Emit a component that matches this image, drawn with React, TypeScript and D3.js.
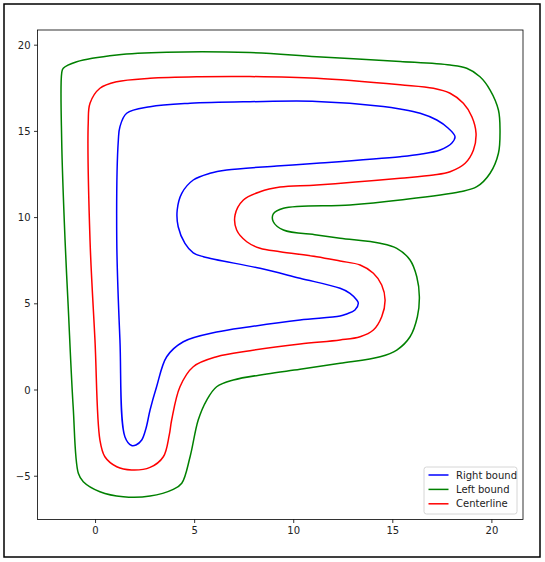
import React from "react";
import * as d3 from "d3";

const rightBound: [number, number][] = [
  [1.23, 15.27], [1.57, 16.05], [2.75, 16.43], [4.77, 16.63], [7.79, 16.72], [11.16, 16.74],
  [14.52, 16.45], [15.37, 16.3], [16.38, 16.05], [17.22, 15.66], [17.8, 15.18], [18.14, 14.69],
  [17.97, 14.31], [17.39, 13.92], [16.38, 13.67], [15.37, 13.53], [11.16, 13.15], [9.14, 12.99],
  [6.62, 12.76], [5.77, 12.57], [4.93, 12.18], [4.35, 11.41], [4.12, 10.44], [4.17, 9.47],
  [4.51, 8.51], [4.93, 7.96], [5.44, 7.73], [8.3, 7.06], [10.32, 6.48], [12.34, 5.9],
  [12.84, 5.61], [13.18, 5.22], [13.26, 5.03], [13.09, 4.64], [12.67, 4.41], [12.34, 4.29],
  [10.32, 4.06], [7.79, 3.67], [6.11, 3.36], [4.43, 2.8], [3.59, 1.93], [3.08, 0.19],
  [2.75, -1.16], [2.55, -2.2], [2.33, -2.9], [2.04, -3.19], [1.82, -3.22], [1.48, -2.71],
  [1.23, 2.9], [1.07, 8.7], [1.15, 14.5],
];

const leftBound: [number, number][] = [
  [-1.63, 18.66], [-0.95, 19.04], [1.07, 19.43], [3.59, 19.59], [7.79, 19.57], [11.16, 19.33],
  [15.37, 19.06], [17.89, 18.85], [18.73, 18.66], [19.4, 18.17], [19.91, 17.4], [20.33, 16.24],
  [20.41, 15.08], [20.33, 13.73], [19.91, 12.57], [19.24, 11.79], [18.39, 11.5], [15.37, 11.02],
  [12.84, 10.73], [9.48, 10.54], [8.97, 10.21], [8.97, 9.76], [9.48, 9.28], [11.16, 8.99],
  [12.34, 8.8], [14.36, 8.51], [15.2, 8.22], [15.87, 7.54], [16.21, 6.57], [16.34, 5.41],
  [16.24, 4.25], [15.87, 3.09], [15.2, 2.32], [14.36, 1.93], [12.34, 1.55], [10.32, 1.2],
  [8.64, 0.93], [6.95, 0.58], [6.11, 0.19], [5.61, -0.58], [5.18, -1.74], [4.77, -3.87],
  [4.35, -5.41], [3.92, -5.76], [2.75, -6.15], [1.4, -6.19], [0.22, -5.9], [-0.62, -5.32],
  [-0.87, -4.83], [-1.13, -0.97], [-1.38, 4.83], [-1.54, 8.7], [-1.71, 14.5], [-1.71, 18.37],
];

const centerline: [number, number][] = [
  [-0.28, 16.63], [0.22, 17.5], [1.07, 17.88], [2.75, 18.08], [5.27, 18.17], [7.79, 18.18],
  [11.16, 18.08], [15.37, 17.7], [17.05, 17.5], [17.89, 17.21], [18.56, 16.63],
  [18.99, 15.85], [19.2, 14.89], [19.07, 13.92], [18.65, 13.15], [17.89, 12.66], [17.05, 12.47],
  [15.37, 12.28], [11.16, 11.89], [9.31, 11.77], [8.3, 11.5], [7.46, 11.02], [7.04, 10.15],
  [7.12, 9.28], [7.63, 8.6], [8.3, 8.22], [9.31, 8.02], [11.16, 7.73], [12.34, 7.48],
  [13.35, 7.25], [14.02, 6.77], [14.44, 6.09], [14.61, 5.22], [14.44, 4.25], [14.02, 3.48],
  [13.35, 3.09], [12.34, 2.9], [10.32, 2.67], [7.79, 2.28], [6.11, 1.93], [4.93, 1.35],
  [4.26, 0.19], [3.84, -1.74], [3.72, -2.6], [3.42, -3.87], [2.75, -4.49], [1.82, -4.64],
  [1.07, -4.45], [0.47, -3.87], [0.22, -2.9], [-0.03, 2.9], [-0.28, 8.7], [-0.37, 15.47],
];

const xTicks = [0, 5, 10, 15, 20];
const yTicks = [-5, 0, 5, 10, 15, 20];

const seriesNames = ["Right bound", "Left bound", "Centerline"];
const seriesColors = ["#0000ff", "#008000", "#ff0000"];

export default function App() {
  const W = 545, H = 562;
  const left = 37.5, right = 523, top = 30, bottom = 519.5;
  const x = d3.scaleLinear().domain([-2.93, 21.57]).range([left, right]);
  const y = d3.scaleLinear().domain([-7.51, 20.88]).range([bottom, top]);
  const line = d3
    .line<[number, number]>()
    .x((d) => x(d[0]))
    .y((d) => y(d[1]))
    .curve(d3.curveCatmullRomClosed.alpha(0.5));
  const series = [rightBound, leftBound, centerline];
  const fmt = (v: number) => (v < 0 ? "\u2212" + Math.abs(v) : String(v));
  const font = "DejaVu Sans, sans-serif";
  const lx = 424, ly = 467;
  return (
    <svg width={W} height={H} style={{ position: "absolute", left: 0, top: 0 }} fontFamily={font}>
      <rect x={0} y={0} width={W} height={H} fill="#fff" />
      <rect x={4} y={4} width={536} height={553} fill="none" stroke="#000" strokeWidth={1.5} />
      {series.map((s, i) => (
        <path key={i} d={line(s) || ""} fill="none" stroke={seriesColors[i]} strokeWidth={1.5} />
      ))}
      <rect x={left} y={top} width={right - left} height={bottom - top} fill="none" stroke="#000" strokeWidth={0.8} />
      {xTicks.map((t) => (
        <g key={"x" + t}>
          <line x1={x(t)} x2={x(t)} y1={bottom} y2={bottom + 3.5} stroke="#000" strokeWidth={0.8} />
          <text x={x(t)} y={bottom + 7} dy="0.76em" textAnchor="middle" fontSize={10} fill="#222">
            {fmt(t)}
          </text>
        </g>
      ))}
      {yTicks.map((t) => (
        <g key={"y" + t}>
          <line x1={left - 3.5} x2={left} y1={y(t)} y2={y(t)} stroke="#000" strokeWidth={0.8} />
          <text x={left - 7} y={y(t)} dy="0.35em" textAnchor="end" fontSize={10} fill="#222">
            {fmt(t)}
          </text>
        </g>
      ))}
      <rect x={lx} y={ly} width={93} height={47} rx={2.5} fill="#fff" fillOpacity={0.8} stroke="#d6d6d6" strokeWidth={1} />
      {seriesNames.map((n, i) => (
        <g key={n}>
          <line x1={lx + 4.5} x2={lx + 24.5} y1={ly + 8 + i * 14.4} y2={ly + 8 + i * 14.4} stroke={seriesColors[i]} strokeWidth={1.5} />
          <text x={lx + 32} y={ly + 8 + i * 14.4} dy="0.35em" fontSize={10} fill="#222">
            {n}
          </text>
        </g>
      ))}
    </svg>
  );
}
